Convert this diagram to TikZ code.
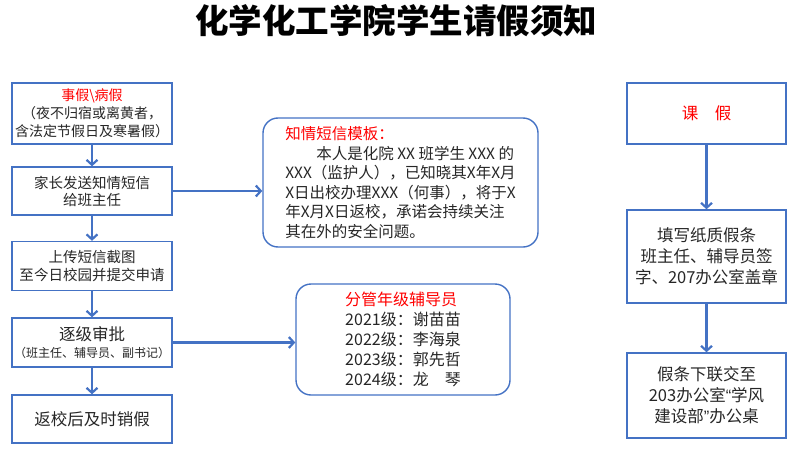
\documentclass[tikz,border=0pt]{standalone}
\usepackage{fontspec}
\setmainfont{Noto Sans CJK SC}
\newfontfamily\quotefont{Liberation Sans}
\usetikzlibrary{arrows.meta}
\definecolor{frameblue}{HTML}{4472C4}
\definecolor{txtred}{HTML}{FF0000}
\definecolor{txtgray}{HTML}{262626}
\begin{document}
\begin{tikzpicture}[x=1pt,y=-1pt,
	box/.style={draw=frameblue,line width=1.4pt,minimum width=160pt,inner sep=2pt,align=center,text=txtgray},
	note/.style={box,rounded corners=15pt},
	arr/.style={draw=frameblue,line width=2.2pt,-{Straight Barb[length=5pt,width=11pt]}}]
	\useasboundingbox (0,0) rectangle (799,460);
	\node[text=black,font=\fontsize{33.5}{36}\selectfont\bfseries] (title) at (396,21) {化学化工学院学生请假须知};
	\node[box,minimum height=61pt,font=\fontsize{14}{18}\selectfont] (shijia) at (92,113.5) {{\color{txtred}事假\textbackslash 病假}\\（夜不归宿或离黄者，\\含法定节假日及寒暑假）};
	\node[box,minimum height=48pt,font=\fontsize{14.5}{17}\selectfont] (fasong) at (92,191) {家长发送知情短信\\给班主任};
	\node[box,minimum height=49pt,font=\fontsize{14.5}{18}\selectfont] (shangchuan) at (92,266) {上传短信截图\\至今日校园并提交申请};
	\node[box,minimum height=49pt,font=\fontsize{16.5}{17}\selectfont] (shenpi) at (92,342.5) {逐级审批\\{\fontsize{12}{14}\selectfont （班主任、辅导员、副书记）}};
	\node[box,minimum height=48pt,font=\fontsize{16.5}{18}\selectfont] (xiaojia) at (92,419) {返校后及时销假};
	\node[note,minimum width=275pt,minimum height=129pt,align=left,font=\fontsize{15.5}{19.5}\selectfont] (muban) at (400.5,182.5) {{\color{txtred}知情短信模板：}\\\hspace*{2em}本人是化院 XX 班学生 XXX 的\\XXX（监护人），已知晓其X年X月\\X日出校办理XXX（何事），将于X\\年X月X日返校，承诺会持续关注\\其在外的安全问题。};
	\node[note,minimum width=214pt,minimum height=111pt,align=left,font=\fontsize{16}{20}\selectfont] (fudao) at (403,339.5) {{\color{txtred}分管年级辅导员}\\2021级：谢苗苗\\2022级：李海泉\\2023级：郭先哲\\2024级：龙　琴};
	\node[box,minimum width=159pt,minimum height=61pt,font=\fontsize{16.5}{20}\selectfont] (kejia) at (706.5,113.5) {{\color{txtred}课\quad 假}};
	\node[box,minimum width=159pt,minimum height=93pt,font=\fontsize{16.5}{21}\selectfont] (tianxie) at (706.5,256.5) {填写纸质假条\\班主任、辅导员签\\字、207办公室盖章};
	\node[box,minimum width=159pt,minimum height=85pt,font=\fontsize{16.5}{21}\selectfont] (xialian) at (706.5,395.5) {假条下联交至\\203办公室{\quotefont “}学风\\建设部{\quotefont ”}办公桌};
	\draw[arr] (shijia) -- (fasong);
	\draw[arr] (fasong) -- (shangchuan);
	\draw[arr] (shangchuan) -- (shenpi);
	\draw[arr] (shenpi) -- (xiaojia);
	\draw[arr] (fasong.east) -- (fasong.east -| muban.west);
	\draw[arr] (shenpi.east) -- (shenpi.east -| fudao.west);
	\draw[arr] (kejia) -- (tianxie);
	\draw[arr] (tianxie) -- (xialian);
\end{tikzpicture}
\end{document}
